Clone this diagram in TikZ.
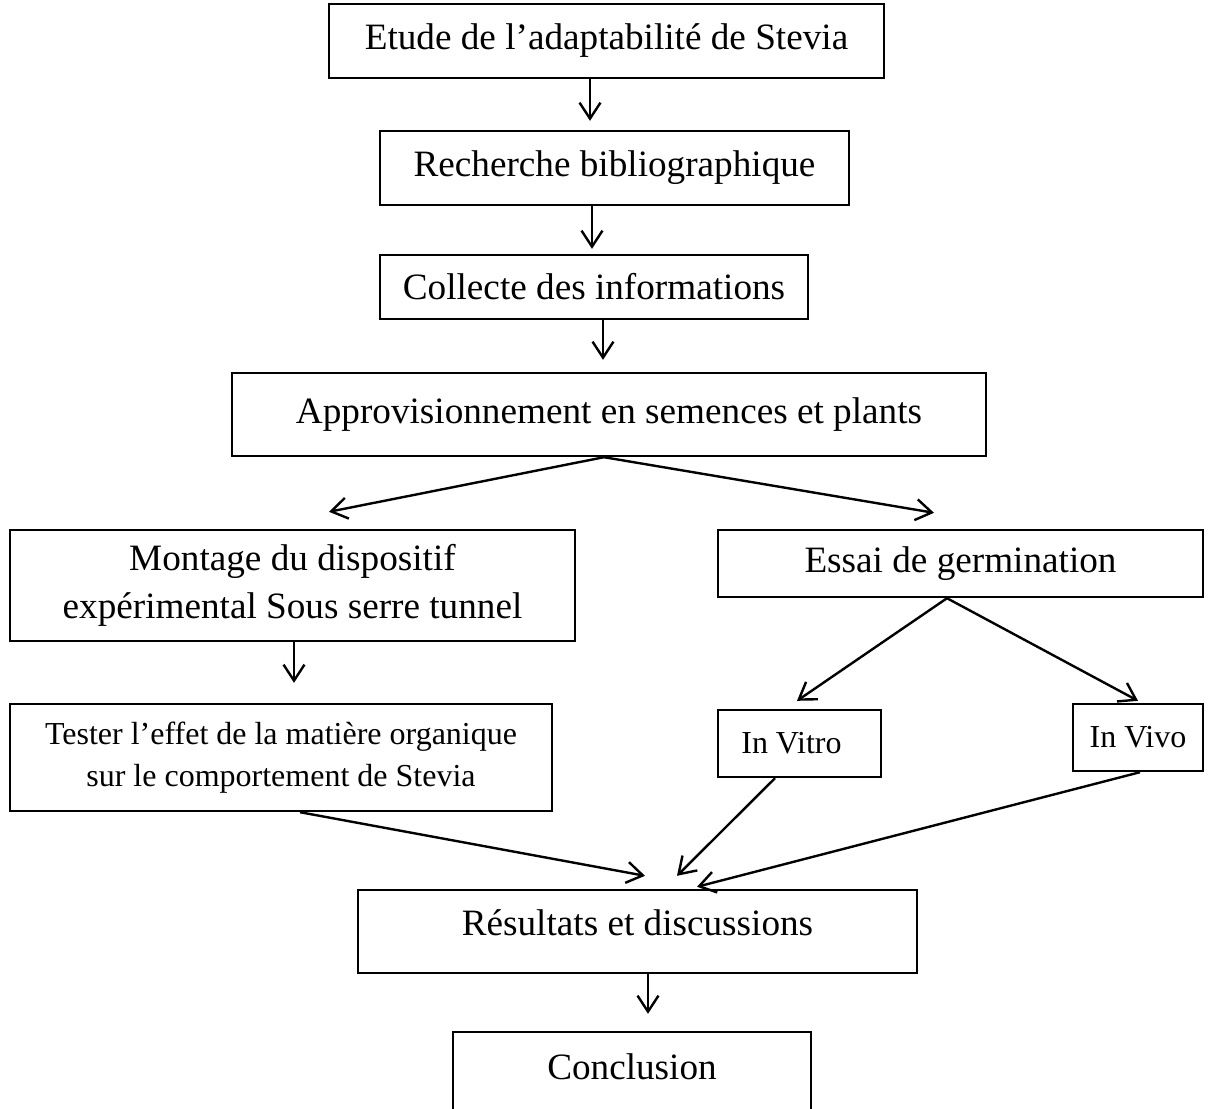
\documentclass[tikz,border=0pt]{standalone}
\usepackage{fontspec}
\setmainfont{Liberation Serif}
\usetikzlibrary{arrows.meta, calc}

% move the text inside a box without changing the box
\newcommand{\lifttext}[2]{\raisebox{#1}[\height][\depth]{#2}}

\begin{document}
\begin{tikzpicture}[
  x=0.5pt, y=-0.5pt,
  font=\fontsize{18.6}{24}\selectfont,
  box/.style={draw, line width=1.2pt, align=center, inner sep=0pt},
  smallbox/.style={box, font=\fontsize{16}{21}\selectfont},
  arrow/.style={-{Straight Barb[length=8pt, width=10.5pt, line width=1.2pt]},
    line width=1.2pt},
]
  \useasboundingbox (0,0) rectangle (1212,1109);

  % boxes
  \node[box, minimum width=277.5pt, minimum height=37pt] (etude) at (606.5,41)
    {Etude de l’adaptabilité de Stevia};
  \node[box, minimum width=234.5pt, minimum height=37pt] (recherche) at (614.5,168)
    {Recherche bibliographique};
  \node[box, minimum width=214pt, minimum height=32pt] (collecte) at (594,287)
    {Collecte des informations};
  \node[box, minimum width=377pt, minimum height=41.5pt] (appro) at (609,414.5)
    {Approvisionnement en semences et plants};
  \node[box, minimum width=282.5pt, minimum height=55.5pt] (montage) at (292.5,585.5)
    {Montage du dispositif\\expérimental Sous serre tunnel};
  \node[box, minimum width=242.5pt, minimum height=33.5pt] (essai) at (960.5,563.5)
    {Essai de germination};
  \node[smallbox, minimum width=271pt, minimum height=53.5pt] (tester) at (281,757.5)
    {Tester l’effet de la matière organique\\sur le comportement de Stevia};
  \node[smallbox, minimum width=81.5pt, minimum height=33.5pt] (vitro) at (799.5,743.5)
    {\hspace*{-8pt}In Vitro};
  \node[smallbox, minimum width=65pt, minimum height=33.5pt] (vivo) at (1138,737.5)
    {In Vivo};
  \node[box, minimum width=279.5pt, minimum height=41.5pt] (result) at (637.5,931.5)
    {\lifttext{4.5pt}{Résultats et discussions}};
  \node[box, minimum width=179pt, minimum height=45pt] (conclusion) at (632,1077)
    {\lifttext{5pt}{Conclusion}};

  % arrows
  \draw[arrow] ([xshift=-8.25pt]etude.south) -- ([xshift=-12.25pt, yshift=4.5pt]recherche.north);
  \draw[arrow] ([xshift=-11.25pt]recherche.south) -- ([xshift=-1pt, yshift=2.5pt]collecte.north);
  \draw[arrow] ([xshift=4.5pt]collecte.south) -- ([xshift=-3pt, yshift=6pt]appro.north);
  \draw[arrow] ([xshift=-2.5pt]appro.south) -- ([xshift=18.25pt, yshift=8.5pt]montage.north);
  \draw[arrow] ([xshift=-2.5pt]appro.south) -- ([xshift=-13.25pt, yshift=8pt]essai.north);
  \draw[arrow] ([xshift=0.75pt]montage.south) -- ([xshift=6.5pt, yshift=10pt]tester.north);
  \draw[arrow] ([xshift=-6.75pt]essai.south) -- ([xshift=-1.25pt, yshift=4pt]vitro.north);
  \draw[arrow] ([xshift=-6.75pt]essai.south) -- ([yshift=1pt]vivo.north);
  \draw[arrow] ([xshift=9.5pt]tester.south) -- ([xshift=3.75pt, yshift=6.5pt]result.north);
  \draw[arrow] ([xshift=-12.25pt]vitro.south) -- ([xshift=19.75pt, yshift=6.5pt]result.north);
  \draw[arrow] ([xshift=1pt]vivo.south) -- ([xshift=29.75pt, yshift=1pt]result.north);
  \draw[arrow] ([xshift=5.25pt]result.south) -- ([xshift=8pt, yshift=8.5pt]conclusion.north);
\end{tikzpicture}
\end{document}
